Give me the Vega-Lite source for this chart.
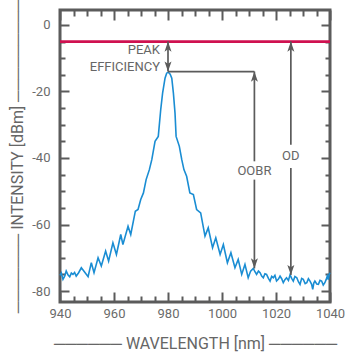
{
  "$schema": "https://vega.github.io/schema/vega-lite/v6.json",
  "width": 270,
  "height": 292,
  "autosize": {"type": "none"},
  "padding": {"left": 60, "top": 10, "right": 20, "bottom": 56},
  "background": "white",
  "config": {
    "view": {"stroke": "#5b5b5b", "strokeWidth": 3},
    "font": "Roboto",
    "axis": {
      "labelFont": "Roboto", "labelFontSize": 13, "labelColor": "#6b6b6b",
      "titleFont": "Roboto", "titleFontSize": 16, "titleFontWeight": "normal", "titleColor": "#666666",
      "domain": false, "grid": false, "ticks": true, "tickColor": "#5b5b5b", "tickWidth": 2
    }
  },
  "datasets": {
    "spectrum": [
      {"wl": 940.0, "dbm": -75.3}, {"wl": 940.5, "dbm": -74.6}, {"wl": 941.1, "dbm": -76.5}, {"wl": 941.7, "dbm": -75.6},
      {"wl": 942.3, "dbm": -74.0}, {"wl": 943.0, "dbm": -75.2}, {"wl": 943.6, "dbm": -75.7}, {"wl": 944.2, "dbm": -74.6},
      {"wl": 944.8, "dbm": -75.0}, {"wl": 945.4, "dbm": -74.4}, {"wl": 946.0, "dbm": -75.5}, {"wl": 946.9, "dbm": -74.5},
      {"wl": 947.9, "dbm": -73.0}, {"wl": 949.1, "dbm": -74.3}, {"wl": 950.4, "dbm": -75.7}, {"wl": 951.6, "dbm": -71.5},
      {"wl": 952.6, "dbm": -74.5}, {"wl": 954.1, "dbm": -70.0}, {"wl": 955.3, "dbm": -72.5}, {"wl": 956.9, "dbm": -68.0},
      {"wl": 958.0, "dbm": -71.0}, {"wl": 959.6, "dbm": -65.5}, {"wl": 960.9, "dbm": -69.0}, {"wl": 962.5, "dbm": -63.0},
      {"wl": 963.3, "dbm": -66.0}, {"wl": 965.2, "dbm": -60.5}, {"wl": 966.2, "dbm": -63.0}, {"wl": 967.9, "dbm": -56.0},
      {"wl": 968.9, "dbm": -55.5}, {"wl": 969.9, "dbm": -52.5}, {"wl": 970.9, "dbm": -50.5}, {"wl": 971.9, "dbm": -46.5},
      {"wl": 973.1, "dbm": -43.5}, {"wl": 974.0, "dbm": -40.5}, {"wl": 975.2, "dbm": -35.0}, {"wl": 976.4, "dbm": -33.5},
      {"wl": 977.3, "dbm": -25.5}, {"wl": 978.0, "dbm": -20.5}, {"wl": 978.9, "dbm": -16.0}, {"wl": 979.5, "dbm": -14.5},
      {"wl": 980.1, "dbm": -14.2}, {"wl": 980.8, "dbm": -14.8}, {"wl": 981.4, "dbm": -16.0}, {"wl": 982.0, "dbm": -20.5},
      {"wl": 982.6, "dbm": -26.5}, {"wl": 983.0, "dbm": -33.5}, {"wl": 984.2, "dbm": -36.5}, {"wl": 985.1, "dbm": -40.5},
      {"wl": 985.9, "dbm": -43.5}, {"wl": 986.9, "dbm": -45.5}, {"wl": 988.1, "dbm": -50.5}, {"wl": 989.4, "dbm": -51.0},
      {"wl": 990.6, "dbm": -55.5}, {"wl": 992.1, "dbm": -56.5}, {"wl": 993.7, "dbm": -63.5}, {"wl": 994.9, "dbm": -61.0},
      {"wl": 996.5, "dbm": -67.0}, {"wl": 997.7, "dbm": -64.0}, {"wl": 999.3, "dbm": -69.0}, {"wl": 1000.5, "dbm": -66.0},
      {"wl": 1002.0, "dbm": -71.5}, {"wl": 1003.3, "dbm": -68.5}, {"wl": 1004.8, "dbm": -73.0}, {"wl": 1006.0, "dbm": -70.5},
      {"wl": 1007.3, "dbm": -75.0}, {"wl": 1008.5, "dbm": -72.0}, {"wl": 1009.7, "dbm": -76.0}, {"wl": 1010.6, "dbm": -74.0},
      {"wl": 1011.6, "dbm": -73.2}, {"wl": 1012.2, "dbm": -74.2}, {"wl": 1012.8, "dbm": -75.0}, {"wl": 1013.5, "dbm": -74.0},
      {"wl": 1014.1, "dbm": -74.5}, {"wl": 1014.7, "dbm": -75.5}, {"wl": 1015.3, "dbm": -76.0}, {"wl": 1015.9, "dbm": -74.8},
      {"wl": 1016.5, "dbm": -75.0}, {"wl": 1017.2, "dbm": -76.2}, {"wl": 1017.8, "dbm": -77.0}, {"wl": 1018.4, "dbm": -75.6},
      {"wl": 1019.0, "dbm": -76.0}, {"wl": 1019.6, "dbm": -75.3}, {"wl": 1020.2, "dbm": -77.0}, {"wl": 1020.9, "dbm": -76.4},
      {"wl": 1021.5, "dbm": -75.5}, {"wl": 1022.1, "dbm": -76.3}, {"wl": 1022.7, "dbm": -77.5}, {"wl": 1023.3, "dbm": -76.6},
      {"wl": 1023.9, "dbm": -76.0}, {"wl": 1024.6, "dbm": -76.8}, {"wl": 1025.2, "dbm": -75.1}, {"wl": 1025.8, "dbm": -76.2},
      {"wl": 1026.4, "dbm": -77.0}, {"wl": 1027.0, "dbm": -75.6}, {"wl": 1027.7, "dbm": -76.0}, {"wl": 1028.3, "dbm": -77.2},
      {"wl": 1028.9, "dbm": -78.0}, {"wl": 1029.5, "dbm": -76.2}, {"wl": 1030.1, "dbm": -76.5}, {"wl": 1030.8, "dbm": -77.8},
      {"wl": 1031.4, "dbm": -77.5}, {"wl": 1032.0, "dbm": -76.3}, {"wl": 1032.6, "dbm": -77.0}, {"wl": 1033.2, "dbm": -78.0},
      {"wl": 1033.6, "dbm": -79.5}, {"wl": 1034.0, "dbm": -77.6}, {"wl": 1034.4, "dbm": -77.0}, {"wl": 1035.1, "dbm": -77.9},
      {"wl": 1035.7, "dbm": -78.0}, {"wl": 1036.3, "dbm": -76.8}, {"wl": 1036.9, "dbm": -77.0}, {"wl": 1037.5, "dbm": -78.2},
      {"wl": 1038.1, "dbm": -77.5}, {"wl": 1038.6, "dbm": -76.5}, {"wl": 1039.0, "dbm": -75.5}, {"wl": 1039.4, "dbm": -76.6},
      {"wl": 1039.7, "dbm": -75.0}, {"wl": 1040.0, "dbm": -74.5}
    ],
    "segments": [
      {"x": 980, "x2": 980, "y": -5, "y2": -14},
      {"x": 980, "x2": 1012, "y": -14, "y2": -14},
      {"x": 1012, "x2": 1012, "y": -14, "y2": -41},
      {"x": 1012, "x2": 1012, "y": -46.5, "y2": -73.2},
      {"x": 1025.5, "x2": 1025.5, "y": -5, "y2": -36},
      {"x": 1025.5, "x2": 1025.5, "y": -43, "y2": -75.2}
    ],
    "heads": [
      {"x": 980, "y": -5, "dir": "up"},
      {"x": 980, "y": -14, "dir": "down"},
      {"x": 1012, "y": -14, "dir": "up"},
      {"x": 1012, "y": -73.2, "dir": "down"},
      {"x": 1025.5, "y": -5, "dir": "up"},
      {"x": 1025.5, "y": -75.2, "dir": "down"}
    ],
    "sideLabels": [
      {"text": "PEAK", "x": 980, "y": -7.6},
      {"text": "EFFICIENCY", "x": 980, "y": -12.7}
    ],
    "lineLabels": [
      {"text": "OOBR", "x": 1012, "y": -44.0},
      {"text": "OD", "x": 1025.5, "y": -39.5}
    ],
    "reference": [{"level": -5}]
  },
  "resolve": {"axis": {"x": "independent", "y": "independent"}},
  "layer": [
    {
      "data": {"name": "spectrum"},
      "mark": {"type": "line", "color": "#1a8dd3", "strokeWidth": 1.6, "interpolate": "linear"},
      "encoding": {
        "x": {
          "field": "wl", "type": "quantitative",
          "scale": {"domain": [940, 1040], "nice": false, "zero": false},
          "axis": {
            "orient": "bottom",
            "title": "────── WAVELENGTH [nm] ──────",
            "titlePadding": 15,
            "values": [940, 960, 980, 1000, 1020, 1040],
            "labelExpr": "'' + datum.value",
            "tickSize": -10,
            "labelPadding": 15,
            "labelFlush": false,
            "labelOverlap": false
          }
        },
        "y": {
          "field": "dbm", "type": "quantitative",
          "scale": {"domain": [-83.3, 4.5], "nice": false, "zero": false},
          "axis": {
            "orient": "left",
            "title": "─────── INTENSITY [dBm] ─────────",
            "titlePadding": 6,
            "values": [-80, -60, -40, -20, 0],
            "labelExpr": "'' + datum.value",
            "tickSize": -9,
            "labelPadding": 19,
            "labelFlush": false,
            "labelOverlap": false
          }
        }
      }
    },
    {
      "data": {"name": "reference"},
      "mark": {"type": "rule", "color": "#cf1150", "strokeWidth": 2.6},
      "encoding": {
        "y": {
          "field": "level", "type": "quantitative",
          "scale": {"domain": [-83.3, 4.5], "nice": false, "zero": false},
          "axis": {
            "orient": "left", "title": null, "labels": false, "tickSize": -5,
            "values": [-75, -70, -65, -55, -50, -45, -35, -30, -25, -15, -10, -5]
          }
        }
      }
    },
    {
      "data": {"name": "segments"},
      "mark": {"type": "rule", "color": "#5b5b5b", "strokeWidth": 1.7},
      "encoding": {
        "x": {
          "field": "x", "type": "quantitative",
          "scale": {"domain": [940, 1040], "nice": false, "zero": false},
          "axis": {
            "orient": "top", "title": null, "labels": false, "tickSize": -10,
            "values": [940, 960, 980, 1000, 1020, 1040]
          }
        },
        "x2": {"field": "x2"},
        "y": {
          "field": "y", "type": "quantitative",
          "scale": {"domain": [-83.3, 4.5], "nice": false, "zero": false},
          "axis": {
            "orient": "right", "title": null, "labels": false, "tickSize": -9,
            "values": [-80, -60, -40, -20, 0]
          }
        },
        "y2": {"field": "y2"}
      }
    },
    {
      "data": {"name": "heads"},
      "transform": [{"filter": "datum.dir === 'up'"}],
      "mark": {"type": "point", "filled": true, "color": "#5b5b5b", "opacity": 1, "size": 196, "shape": "M0,0L0.5,1.45L0,1.1L-0.5,1.45Z"},
      "encoding": {
        "x": {
          "field": "x", "type": "quantitative",
          "scale": {"domain": [940, 1040], "nice": false, "zero": false},
          "axis": {
            "orient": "bottom", "title": null, "labels": false, "tickSize": -6,
            "values": [945, 950, 955, 965, 970, 975, 985, 990, 995, 1005, 1010, 1015, 1025, 1030, 1035]
          }
        },
        "y": {
          "field": "y", "type": "quantitative",
          "scale": {"domain": [-83.3, 4.5], "nice": false, "zero": false},
          "axis": {
            "orient": "right", "title": null, "labels": false, "tickSize": -5,
            "values": [-75, -70, -65, -55, -50, -45, -35, -30, -25, -15, -10, -5]
          }
        }
      }
    },
    {
      "data": {"name": "heads"},
      "transform": [{"filter": "datum.dir === 'down'"}],
      "mark": {"type": "point", "filled": true, "color": "#5b5b5b", "opacity": 1, "size": 196, "shape": "M0,0L0.5,-1.45L0,-1.1L-0.5,-1.45Z"},
      "encoding": {
        "x": {
          "field": "x", "type": "quantitative",
          "scale": {"domain": [940, 1040], "nice": false, "zero": false},
          "axis": {
            "orient": "top", "title": null, "labels": false, "tickSize": -6,
            "values": [945, 950, 955, 965, 970, 975, 985, 990, 995, 1005, 1010, 1015, 1025, 1030, 1035]
          }
        },
        "y": {"field": "y", "type": "quantitative", "scale": {"domain": [-83.3, 4.5], "nice": false, "zero": false}, "axis": null}
      }
    },
    {
      "data": {"name": "sideLabels"},
      "mark": {"type": "text", "align": "right", "baseline": "middle", "dx": -8, "font": "Roboto", "fontSize": 13, "color": "#666666"},
      "encoding": {
        "x": {"field": "x", "type": "quantitative", "scale": {"domain": [940, 1040], "nice": false, "zero": false}, "axis": null},
        "y": {"field": "y", "type": "quantitative", "scale": {"domain": [-83.3, 4.5], "nice": false, "zero": false}, "axis": null},
        "text": {"field": "text"}
      }
    },
    {
      "data": {"name": "lineLabels"},
      "mark": {"type": "text", "align": "center", "baseline": "middle", "font": "Roboto", "fontSize": 13, "color": "#666666"},
      "encoding": {
        "x": {"field": "x", "type": "quantitative", "scale": {"domain": [940, 1040], "nice": false, "zero": false}, "axis": null},
        "y": {"field": "y", "type": "quantitative", "scale": {"domain": [-83.3, 4.5], "nice": false, "zero": false}, "axis": null},
        "text": {"field": "text"}
      }
    }
  ]
}
